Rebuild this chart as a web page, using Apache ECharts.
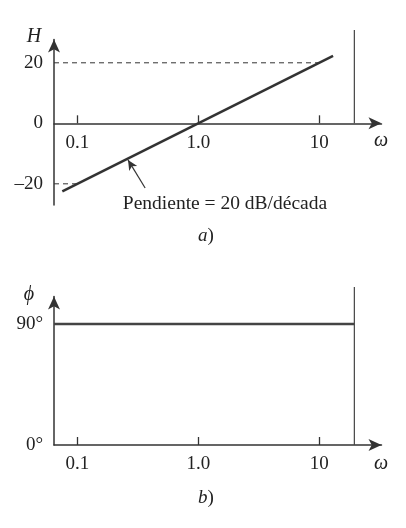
<!DOCTYPE html>
<html>
<head>
<meta charset="utf-8">
<script src="https://cdn.jsdelivr.net/npm/echarts@6/dist/echarts.min.js"></script>
<style>
html,body{margin:0;padding:0;background:#fff;}
#chart{width:406px;height:528px;}
</style>
</head>
<body>
<div id="chart"></div>
<script>
// ---- data ----
const omegaTicks = [0.1, 1, 10];
const omegaTickLabels = ['0.1', '1.0', '10'];
const omegaMin = 0.064;
const omegaMax = 32.7;
const omegaEdge = 19.5;

const magOmega = [0.075, 13];
const magDb = [-22.5, 22.3];
const magTicks = [-20, 0, 20];
const magTickLabels = ['\u201320', '0', '20'];
const magMin = -27;
const magMax = 27.7;
const guideDb = [20, -20];
const guideOmegaEnd = [10, 0.1];
const slopeArrowOmega = [0.363, 0.262];
const slopeArrowDb = [-21.4, -12.1];

const phaseOmega = [0.064, 19.5];
const phaseDeg = [90, 90];
const phaseTicks = [0, 90];
const phaseTickLabels = ['0\u00b0', '90\u00b0'];
const phaseMin = 0;
const phaseMax = 110.5;

// ---- chart ----
const L = Math.log10;
const FONT = '"Liberation Serif", "DejaVu Serif", serif';
const INK = '#222';
const LINE = '#333';

function xAxisCfg(gridIndex, labelMargin) {
  return {
    type: 'value', gridIndex,
    min: L(omegaMin), max: L(omegaMax),
    splitLine: {show: false},
    axisLine: {onZero: true, lineStyle: {color: LINE, width: 1.5}, symbol: ['none', 'arrow'], symbolSize: [9, 13]},
    axisTick: {show: true, inside: true, length: 8, lineStyle: {color: LINE, width: 1.3}, customValues: omegaTicks.map(L)},
    axisLabel: {
      margin: labelMargin, color: INK, fontFamily: FONT, fontSize: 19,
      customValues: omegaTicks.map(L),
      formatter: v => {
        const i = omegaTicks.findIndex(t => Math.abs(L(t) - v) < 1e-6);
        return i >= 0 ? omegaTickLabels[i] : '';
      }
    }
  };
}
function yAxisCfg(gridIndex, min, max, ticks, labels) {
  return {
    type: 'value', gridIndex, min, max,
    splitLine: {show: false},
    axisLine: {onZero: false, lineStyle: {color: LINE, width: 1.5}, symbol: ['none', 'arrow'], symbolSize: [9, 13]},
    axisTick: {show: false},
    axisLabel: {
      margin: 11, color: INK, fontFamily: FONT, fontSize: 19,
      customValues: ticks,
      formatter: v => {
        const i = ticks.findIndex(t => Math.abs(t - v) < 1e-6);
        return i >= 0 ? labels[i] : '';
      }
    }
  };
}

const chart = echarts.init(document.getElementById('chart'), null, {renderer: 'canvas'});

const textStyle = (t, x, y, size, italic) => ({
  type: 'text', x, y,
  style: {text: t, fill: INK, font: (italic ? 'italic ' : '') + size + 'px ' + FONT, textAlign: 'center', textVerticalAlign: 'middle'}
});
const panelLabel = (letter, x, y) => ({
  type: 'text', x, y,
  style: {
    text: '{i|' + letter + '}{n|)}', textAlign: 'center', textVerticalAlign: 'middle',
    rich: {
      i: {fill: INK, fontFamily: FONT, fontStyle: 'italic', fontSize: 19},
      n: {fill: INK, fontFamily: FONT, fontSize: 19}
    }
  }
});

chart.setOption({
  animation: false,
  backgroundColor: '#fff',
  grid: [
    {left: 54, right: 24.5, top: 39.5, bottom: 323},
    {left: 54, right: 24.5, top: 296.5, bottom: 83}
  ],
  xAxis: [xAxisCfg(0, -71.5), xAxisCfg(1, 10)],
  yAxis: [
    yAxisCfg(0, magMin, magMax, magTicks, magTickLabels),
    yAxisCfg(1, phaseMin, phaseMax, phaseTicks, phaseTickLabels)
  ],
  series: [
    {
      type: 'line', xAxisIndex: 0, yAxisIndex: 0, showSymbol: false, symbol: 'none',
      data: magOmega.map((w, i) => [L(w), magDb[i]]),
      lineStyle: {color: LINE, width: 2.6},
      markLine: {
        silent: true, symbol: ['none', 'arrow'], symbolSize: [7, 10],
        label: {show: false},
        lineStyle: {color: LINE, width: 1.2, type: 'solid'},
        data: [[
          {coord: [L(slopeArrowOmega[0]), slopeArrowDb[0]]},
          {coord: [L(slopeArrowOmega[1]), slopeArrowDb[1]]}
        ]]
      }
    },
    ...guideDb.map((db, i) => ({
      type: 'line', xAxisIndex: 0, yAxisIndex: 0, showSymbol: false, symbol: 'none',
      data: [[L(omegaMin), db], [L(guideOmegaEnd[i]), db]],
      lineStyle: {color: LINE, width: 1, type: [5, 4]}
    })),
    {
      type: 'line', xAxisIndex: 0, yAxisIndex: 0, showSymbol: false, symbol: 'none', clip: false,
      data: [[L(omegaEdge), 0], [L(omegaEdge), 30.8]],
      lineStyle: {color: '#444', width: 1.2}
    },
    {
      type: 'line', xAxisIndex: 1, yAxisIndex: 1, showSymbol: false, symbol: 'none',
      data: phaseOmega.map((w, i) => [L(w), phaseDeg[i]]),
      lineStyle: {color: '#444', width: 2.6}
    },
    {
      type: 'line', xAxisIndex: 1, yAxisIndex: 1, showSymbol: false, symbol: 'none', clip: false,
      data: [[L(omegaEdge), 0], [L(omegaEdge), 117.5]],
      lineStyle: {color: '#444', width: 1.2}
    }
  ],
  graphic: [
    textStyle('H', 34, 37, 20, true),
    textStyle('\u03c9', 381, 141, 20, true),
    textStyle('Pendiente = 20 dB/d\u00e9cada', 225, 204, 19.5, false),
    panelLabel('a', 206, 236),
    textStyle('\u03d5', 29, 295, 20, true),
    textStyle('\u03c9', 381, 464, 20, true),
    panelLabel('b', 206, 498)
  ]
});
</script>
</body>
</html>
